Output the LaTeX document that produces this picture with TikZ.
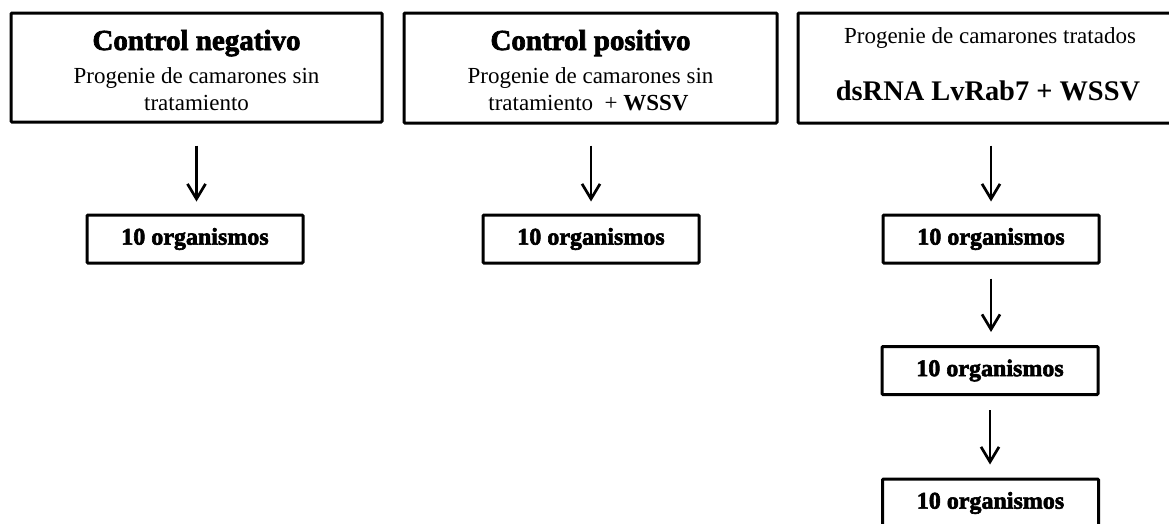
\documentclass[tikz,border=0pt]{standalone}
\usepackage{fontspec}
\setmainfont{Liberation Serif}
\newfontfamily\heavy{Liberation Serif Bold}[FakeBold=2.5]
\usetikzlibrary{arrows.meta}
\tikzset{
  bigbox/.style={draw, line width=3pt, rounded corners=1pt, inner sep=0pt},
  smallbox/.style={draw, line width=3pt, rounded corners=1pt, inner sep=0pt, minimum width=216pt, minimum height=48pt},
  flow/.style={line width=2.7pt, -{Straight Barb[length=15pt,width=18pt,line width=2.7pt]}},
  title/.style={anchor=base, inner sep=0pt, font=\heavy\fontsize{29}{29}\selectfont},
  body/.style={anchor=base, inner sep=0pt, font=\fontsize{23}{23}\selectfont},
  count/.style={font=\heavy\fontsize{24}{24}\selectfont},
}
\begin{document}
\begin{tikzpicture}[x=1pt,y=-1pt]
\useasboundingbox (0,0) rectangle (1169,523);
\begin{scope}
\clip (0,0) rectangle (1169,523);
% top boxes
\node[bigbox, minimum width=371pt, minimum height=109pt] (b1) at (196.5,67.5) {};
\node[bigbox, minimum width=373pt, minimum height=110pt] (b2) at (590.5,68) {};
\node[bigbox, minimum width=386pt, minimum height=110pt] (b3) at (991,68) {};
% texts
\node[title] (t1a) at (196.5,50) {Control negativo};
\node[body] (t1b) at (196.5,83) {Progenie de camarones sin};
\node[body] (t1c) at (196.5,110) {tratamiento};
\node[title] (t2a) at (590.5,50) {Control positivo};
\node[body] (t2b) at (590.5,83) {Progenie de camarones sin};
\node[body] (t2c) at (588.5,110) {tratamiento\ \ + \textbf{WSSV}};
\node[body] (t3a) at (990,43) {Progenie de camarones tratados};
\node[anchor=base, inner sep=0pt, font=\bfseries\fontsize{28.4}{28.4}\selectfont] (t3b) at (988,100) {dsRNA LvRab7 + WSSV};
% small boxes
\node[smallbox, count] (s1) at (195,239) {10 organismos};
\node[smallbox, count] (s2) at (591,239) {10 organismos};
\node[smallbox, count] (s3) at (991,239) {10 organismos};
\node[smallbox, count] (s4) at (990,370.5) {10 organismos};
\node[smallbox, count] (s5) at (990.5,503) {10 organismos};
% arrows
\draw[flow, shorten <=22pt, shorten >=12pt] (b1.south) -- (b1.south |- s1.north);
\draw[flow, shorten <=21pt, shorten >=12pt] (b2.south -| s2.north) -- (s2.north);
\draw[flow, shorten <=21pt, shorten >=12pt] (b3.south) -- (b3.south |- s3.north);
\draw[flow, shorten <=14pt, shorten >=13pt] (s3.south) -- (s3.south |- s4.north);
\draw[flow, shorten <=14pt, shorten >=13pt] (s4.south) -- (s4.south |- s5.north);
\end{scope}
\end{tikzpicture}
\end{document}
